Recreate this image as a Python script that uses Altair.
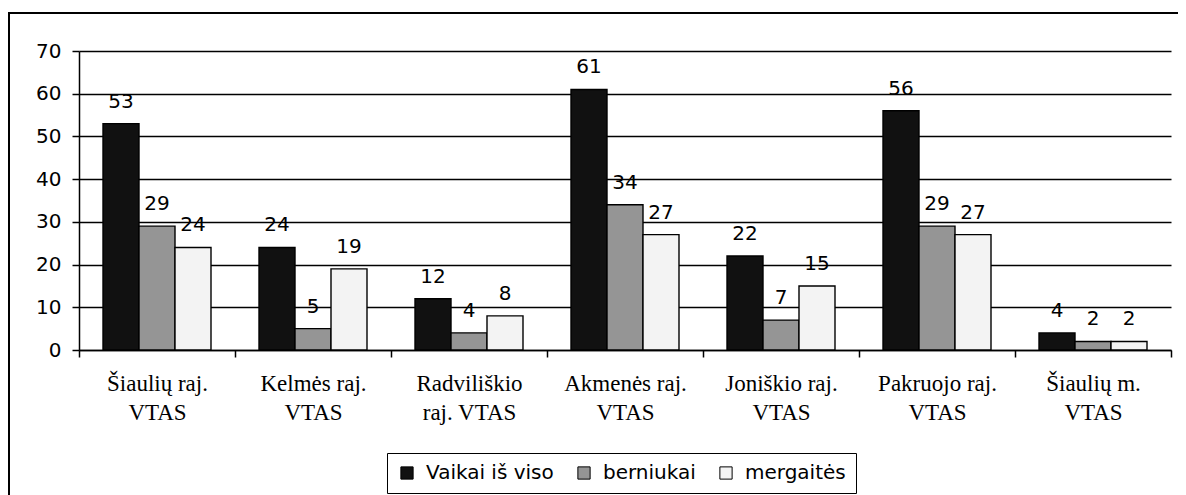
import altair as alt
import pandas as pd

categories = ["Šiaulių raj.|VTAS", "Kelmės raj.|VTAS", "Radviliškio|raj. VTAS",
              "Akmenės raj.|VTAS", "Joniškio raj.|VTAS", "Pakruojo raj.|VTAS",
              "Šiaulių m.|VTAS"]
series = ["Vaikai iš viso", "berniukai", "mergaitės"]
vaikai = [53, 24, 12, 61, 22, 56, 4]
berniukai = [29, 5, 4, 34, 7, 29, 2]
mergaites = [24, 19, 8, 27, 15, 27, 2]
colors = ["#111111", "#959595", "#f3f3f3"]
y_ticks = [0, 10, 20, 30, 40, 50, 60, 70]

rows = []
for i, c in enumerate(categories):
    for s, vals in zip(series, [vaikai, berniukai, mergaites]):
        rows.append({"cat": c, "series": s, "value": vals[i]})
df = pd.DataFrame(rows)

W, H = 1092, 299

x = alt.X("cat:N", sort=categories,
          scale=alt.Scale(paddingInner=0, paddingOuter=0),
          axis=alt.Axis(title=None, labelExpr="split(datum.label, '|')", labelAngle=0,
                        tickBand="extent", ticks=True, tickSize=7, tickColor="black",
                        tickWidth=1.5, domainColor="black", domainWidth=1.5,
                        labelFont="Liberation Serif", labelFontSize=23,
                        labelLineHeight=29, labelPadding=15, labelColor="black",
                        labelBaseline="top", grid=False))
xo = alt.XOffset("series:N", sort=series,
                 scale=alt.Scale(paddingInner=0, paddingOuter=0.6667))
y = alt.Y("value:Q", scale=alt.Scale(domain=[0, 70]),
          axis=alt.Axis(title=None, values=y_ticks, grid=True, gridColor="black",
                        gridWidth=1.3, gridOpacity=1, tickSize=7, tickColor="black",
                        tickWidth=1.5, domainColor="black", domainWidth=1.5,
                        labelFont="DejaVu Sans", labelFontSize=20,
                        labelColor="black", labelPadding=11))

color = alt.Color("series:N", sort=series,
                  scale=alt.Scale(domain=series, range=colors),
                  legend=alt.Legend(title=None, orient="none", legendX=308, legendY=402,
                                    direction="horizontal", columns=3,
                                    symbolType="square", symbolSize=150,
                                    symbolStrokeColor="black", symbolStrokeWidth=1,
                                    symbolOpacity=1,
                                    labelFont="DejaVu Sans", labelFontSize=20,
                                    labelColor="black", labelOffset=9,
                                    columnPadding=20, padding=10,
                                    strokeColor="black"))

bars = alt.Chart(df).mark_bar(stroke="black", strokeWidth=1.4).encode(
    x=x, xOffset=xo, y=y, color=color)

labels = alt.Chart(df).mark_text(dy=-16, baseline="alphabetic", fontSize=20,
                                 font="DejaVu Sans", color="black").encode(
    x=x, xOffset=xo, y=y, text="value:Q")

frame = alt.Chart(pd.DataFrame({"f": [0]})).mark_rect(
    fillOpacity=0, stroke="black", strokeWidth=2, clip=False).encode(
    x=alt.value(-70), x2=alt.value(W + 40), y=alt.value(-38), y2=alt.value(H + 200))

chart = alt.layer(frame, bars, labels).properties(
    width=W, height=H,
    padding={"left": 71, "top": 43, "right": 7, "bottom": 145},
    autosize=alt.AutoSizeParams(type="none"),
).configure_view(stroke=None)

chart.save("out.html", embed_options={"renderer": "svg", "actions": False})
